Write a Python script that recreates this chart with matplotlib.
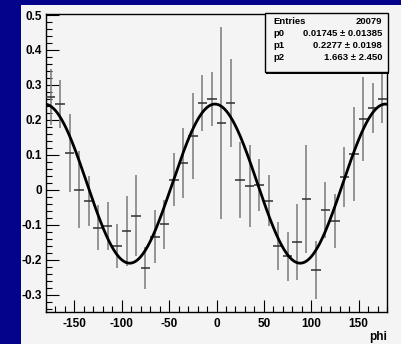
import numpy as np
import matplotlib
matplotlib.use("Agg")
import matplotlib.pyplot as plt
from matplotlib.patches import Rectangle
from matplotlib.ticker import MultipleLocator, FixedLocator

# ---- data ----
phi_centers = [-175, -165, -155, -145, -135, -125, -115, -105, -95, -85,
               -75, -65, -55, -45, -35, -25, -15, -5, 5, 15,
               25, 35, 45, 55, 65, 75, 85, 95, 105, 115,
               125, 135, 145, 155, 165, 175]
values = [0.266, 0.246, 0.106, 0.000, -0.033, -0.109, -0.103, -0.160, -0.117, -0.074,
          -0.223, -0.134, -0.099, 0.029, 0.077, 0.154, 0.249, 0.260, 0.190, 0.249,
          0.029, 0.011, 0.014, -0.031, -0.160, -0.191, -0.149, -0.026, -0.229, -0.057,
          -0.089, 0.037, 0.103, 0.203, 0.234, 0.260]
errors = [0.080, 0.069, 0.112, 0.110, 0.072, 0.064, 0.069, 0.063, 0.100, 0.115,
          0.060, 0.077, 0.070, 0.077, 0.100, 0.123, 0.080, 0.077, 0.275, 0.126,
          0.109, 0.117, 0.075, 0.074, 0.069, 0.070, 0.109, 0.154, 0.083, 0.080,
          0.077, 0.086, 0.134, 0.120, 0.071, 0.070]
bin_half_width = 5
stat_labels = ["Entries", "p0", "p1", "p2"]
stat_values = ["20079", "0.01745 \u00b1 0.01385", "0.2277 \u00b1 0.0198", "1.663 \u00b1 2.450"]
fit_p0, fit_p1, fit_p2 = 0.01745, 0.2277, 1.663
x_ticks = [-150, -100, -50, 0, 50, 100, 150]
y_ticks = [-0.3, -0.2, -0.1, 0, 0.1, 0.2, 0.3, 0.4, 0.5]
x_label = "phi"

FONT = "Liberation Sans"
TICK_FS = 8.5
STAT_FS = 6.8

W, H = 401, 344
fig = plt.figure(figsize=(W / 100, H / 100), dpi=100)
fig.patch.set_facecolor("#03038c")
bg = fig.add_axes([21 / W, 0, 1 - 21 / W, 1 - 5 / H], zorder=-5)
bg.set_axis_off()
bg.add_patch(Rectangle((0, 0), 1, 1, transform=bg.transAxes, facecolor="#f4f4f4", edgecolor="none"))

ax = fig.add_axes([46 / W, 1 - 312 / H, (387 - 46) / W, (312 - 14) / H], zorder=1)
ax.set_facecolor("#f4f4f4")
ax.set_xlim(-180, 180)
ax.set_ylim(-0.35, 0.503)

x = np.array(phi_centers, float)
v = np.array(values)
e = np.array(errors)
ax.vlines(x, v - e, v + e, colors="#7a7a7a", linewidth=1.1, zorder=2)
ax.hlines(v, x - bin_half_width, x + bin_half_width, colors="#303030", linewidth=1.1, zorder=3)

xf = np.linspace(-180, 180, 721)
yf = fit_p0 + fit_p1 * np.cos(np.radians(2 * (xf + fit_p2)))
ax.plot(xf, yf, color="black", linewidth=2.0, zorder=4)

ax.xaxis.set_major_locator(FixedLocator(x_ticks))
ax.xaxis.set_minor_locator(MultipleLocator(10))
ax.yaxis.set_major_locator(FixedLocator(y_ticks))
ax.yaxis.set_minor_locator(MultipleLocator(0.02))
ax.set_xticklabels([f"{t:d}" for t in x_ticks], fontfamily=FONT, fontweight="bold", fontsize=TICK_FS)
ax.set_yticklabels(["0" if t == 0 else f"{t:g}" for t in y_ticks], fontfamily=FONT,
                   fontweight="bold", fontsize=TICK_FS)
ax.tick_params(axis="both", which="major", direction="in", length=9, width=0.8, color="black")
ax.tick_params(axis="both", which="minor", direction="in", length=4.5, width=0.8, color="black")
ax.tick_params(axis="y", pad=3)
ax.tick_params(axis="x", pad=4)
ax.tick_params(top=False, right=False, which="both")
for s in ax.spines.values():
    s.set_linewidth(1.0)
    s.set_color("black")

ax.text(1.0, -(331 - 312) / 298, x_label, transform=ax.transAxes, ha="right", va="top",
        fontfamily=FONT, fontweight="bold", fontsize=TICK_FS)

# stats box
bx0, bx1 = (265 - 46) / 341, (388 - 46) / 341
by0, by1 = (312 - 72) / 298, (312 - 13) / 298
ax.add_patch(Rectangle((bx0 + 0.004, by0 - 0.006), bx1 - bx0, by1 - by0, transform=ax.transAxes,
                       facecolor="black", edgecolor="none", zorder=6, clip_on=False))
ax.add_patch(Rectangle((bx0, by0), bx1 - bx0, by1 - by0, transform=ax.transAxes,
                       facecolor="#f4f4f4", edgecolor="black", linewidth=1.0, zorder=7, clip_on=False))
ys = [(312 - yy) / 298 for yy in (22, 33, 45, 58)]
for lab, val, yy in zip(stat_labels, stat_values, ys):
    ax.text((273 - 46) / 341, yy, lab, transform=ax.transAxes, ha="left", va="center",
            fontfamily=FONT, fontweight="bold", fontsize=STAT_FS, zorder=8)
    ax.text((382 - 46) / 341, yy, val, transform=ax.transAxes, ha="right", va="center",
            fontfamily=FONT, fontweight="bold", fontsize=STAT_FS, zorder=8)

fig.savefig("out.png", dpi=100, facecolor=fig.get_facecolor())
